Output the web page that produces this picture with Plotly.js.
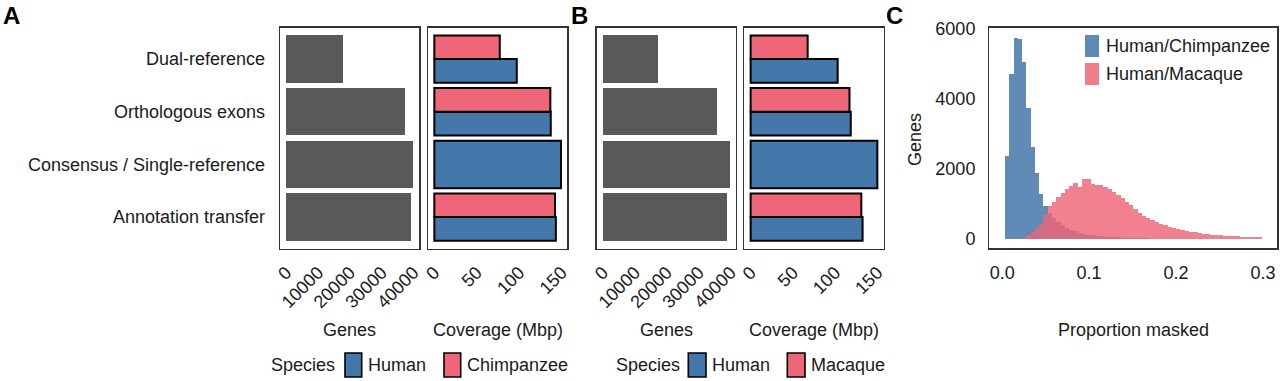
<!DOCTYPE html>
<html><head><meta charset="utf-8">
<script src="https://cdn.plot.ly/plotly-3.0.1.min.js"></script>
<style>html,body{margin:0;padding:0;background:#fff}#chart{width:1280px;height:381px}</style>
</head><body><div id="chart"></div>
<script>
// ---- data ----
const categories = ['Dual-reference', 'Orthologous exons', 'Consensus / Single-reference', 'Annotation transfer'];
const genesA = [17900, 37400, 39800, 39300];
const covHumanA = [97, 137, 149, 143];
const covChimpA = [77, 136.5, null, 142];
const genesB = [17300, 35700, 39700, 39000];
const covHumanB = [103, 118.5, 150, 132.5];
const covMacaqueB = [67.5, 117, null, 131];
const genesTicks = [0, 10000, 20000, 30000, 40000];
const covTicks = [0, 50, 100, 150];
const histTicks = [0, 0.1, 0.2, 0.3];
const histYTicks = [0, 2000, 4000, 6000];
const binStart = 0.00568;   // centre of first bin
const binWidth = 0.004924;
const histChimp = [2370, 4710, 5710, 5700, 5050, 3730, 2630, 1890, 1270, 950,
  750, 600, 480, 390, 310, 260, 215, 180, 150, 125,
  105, 90, 78, 68, 60, 52, 45, 40, 35, 30,
  26, 22, 19, 16, 14, 12, 10, 9, 8, 7,
  6, 5, 5, 4, 4, 3, 3, 3, 2, 2,
  2, 2, 1, 1, 1, 1, 1, 1, 1, 1];
const histMacaque = [0, 0, 3, 8, 25, 100, 190, 295, 435, 670,
  930, 1055, 1195, 1310, 1415, 1510, 1595, 1480, 1700, 1695,
  1575, 1545, 1525, 1490, 1435, 1340, 1260, 1165, 1055, 975,
  865, 750, 665, 595, 530, 485, 435, 390, 350, 320,
  285, 255, 230, 210, 190, 170, 150, 135, 125, 115,
  105, 95, 85, 85, 75, 68, 65, 62, 55, 65];

// ---- helpers ----
const W = 1280, H = 381;
const px = x => x / W, py = y => 1 - y / H;
const FONT = 'Liberation Sans, Arial, Helvetica, sans-serif';
const BLUE = '#4477AA', RED = '#EE6677', GREY = '#595959';
const TXT = '#1a1a1a';
const catOrder = categories.slice().reverse();

function genesTrace(vals, xa, ya) {
  return {type: 'bar', orientation: 'h', y: categories, x: vals, width: 0.9, offset: -0.45,
    marker: {color: GREY, line: {width: 0}}, xaxis: xa, yaxis: ya, hoverinfo: 'skip', showlegend: false};
}
function covTraces(human, other, xa, ya) {
  const hw = other.map(v => v == null ? 0.9 : 0.45);
  return [
    {type: 'bar', orientation: 'h', y: categories, x: human, width: hw, offset: -0.45,
      marker: {color: BLUE, line: {color: '#000', width: 2}}, xaxis: xa, yaxis: ya, hoverinfo: 'skip', showlegend: false},
    {type: 'bar', orientation: 'h', y: categories, x: other, width: 0.45, offset: 0,
      marker: {color: RED, line: {color: '#000', width: 2}}, xaxis: xa, yaxis: ya, hoverinfo: 'skip', showlegend: false}
  ];
}
const rng = vals => { const m = Math.max(...vals.filter(v => v != null)); return [-0.05 * m, 1.05 * m]; };

const traces = [
  genesTrace(genesA, 'x', 'y'),
  ...covTraces(covHumanA, covChimpA, 'x2', 'y2'),
  genesTrace(genesB, 'x3', 'y3'),
  ...covTraces(covHumanB, covMacaqueB, 'x4', 'y4'),
  {type: 'bar', x0: binStart, dx: binWidth, y: histChimp, width: binWidth, marker: {color: BLUE, line: {width: 0}},
    opacity: 0.85, xaxis: 'x5', yaxis: 'y5', hoverinfo: 'skip', showlegend: false},
  {type: 'bar', x0: binStart, dx: binWidth, y: histMacaque, width: binWidth, marker: {color: RED, line: {width: 0}},
    opacity: 0.82, xaxis: 'x5', yaxis: 'y5', hoverinfo: 'skip', showlegend: false}
];

const boxY = [py(248.7), py(27.5)];
const frame = {showline: true, mirror: true, linecolor: '#333', linewidth: 1.3, showgrid: false, zeroline: false, ticks: '', fixedrange: true};
const tickF = {family: FONT, size: 18, color: TXT};
const yCat = Object.assign({}, frame, {type: 'category', categoryorder: 'array', categoryarray: catOrder, range: [-0.6, 3.6], domain: boxY});
const xBar = (dom, anchor, vals, ticks) => Object.assign({}, frame, {domain: dom, anchor: anchor, range: rng(vals),
  tickvals: ticks, ticktext: ticks.map(String), tickangle: -45, tickfont: tickF, ticklabelstandoff: 5});

const layout = {
  width: W, height: H, margin: {l: 0, r: 0, t: 0, b: 0}, paper_bgcolor: '#fff', plot_bgcolor: '#fff',
  barmode: 'overlay', bargap: 0, showlegend: false, font: {family: FONT, color: TXT},
  xaxis: xBar([px(280), px(419.3)], 'y', genesA, genesTicks),
  xaxis2: xBar([px(428), px(567.3)], 'y2', covHumanA.concat(covChimpA), covTicks),
  xaxis3: xBar([px(596.7), px(736)], 'y3', genesB, genesTicks),
  xaxis4: xBar([px(744.3), px(883.7)], 'y4', covHumanB.concat(covMacaqueB), covTicks),
  yaxis: Object.assign({}, yCat, {anchor: 'x', tickfont: tickF, ticklabelstandoff: 10}),
  yaxis2: Object.assign({}, yCat, {anchor: 'x2', showticklabels: false}),
  yaxis3: Object.assign({}, yCat, {anchor: 'x3', showticklabels: false}),
  yaxis4: Object.assign({}, yCat, {anchor: 'x4', showticklabels: false}),
  xaxis5: Object.assign({}, frame, {domain: [px(989.3), px(1277.3)], anchor: 'y5', range: [-0.0148, 0.3165],
    tickvals: histTicks, ticktext: histTicks.map(v => v.toFixed(1)), tickfont: tickF, ticklabelstandoff: 8}),
  yaxis5: Object.assign({}, frame, {domain: [py(248.3), py(27.7)], anchor: 'x5', range: [-265, 6017],
    tickvals: histYTicks, ticktext: histYTicks.map(String), tickfont: tickF, ticklabelstandoff: 9}),
  shapes: [],
  annotations: []
};

const ann = (text, x, y, opt) => layout.annotations.push(Object.assign({text: text, x: px(x), y: py(y), xref: 'paper', yref: 'paper',
  showarrow: false, font: {family: FONT, size: 18, color: TXT}, xanchor: 'center', yanchor: 'middle'}, opt || {}));

// panel letters
const LF = {family: FONT, size: 24, color: '#000'};
ann('<b>A</b>', 1, 15, {xanchor: 'left', font: LF});
ann('<b>B</b>', 569, 15, {xanchor: 'left', font: LF});
ann('<b>C</b>', 884, 15, {xanchor: 'left', font: LF});
// axis titles
ann('Genes', 349.5, 330);
ann('Coverage (Mbp)', 497.6, 330);
ann('Genes', 666.3, 330);
ann('Coverage (Mbp)', 814, 330);
ann('Proportion masked', 1133.3, 330);
ann('Genes', 915, 140, {textangle: -90});

// legends (keys + labels)
const key = (x0, x1, y0, y1, col, outline) => layout.shapes.push({type: 'rect', xref: 'paper', yref: 'paper',
  x0: px(x0), x1: px(x1), y0: py(y1), y1: py(y0), fillcolor: col, layer: 'above',
  line: outline ? {color: '#000', width: 1.6} : {width: 0}});
ann('Species', 337, 365, {xanchor: 'right'});
key(345, 361.7, 353, 377, BLUE, true); ann('Human', 366, 365, {xanchor: 'left'});
key(444, 460.7, 353, 377, RED, true); ann('Chimpanzee', 464.5, 365, {xanchor: 'left'});
ann('Species', 682, 365, {xanchor: 'right'});
key(688.3, 706, 353, 377, BLUE, true); ann('Human', 709.5, 365, {xanchor: 'left'});
key(787.3, 805, 353, 377, RED, true); ann('Macaque', 809, 365, {xanchor: 'left'});
key(1085, 1099, 35, 57, 'rgba(68,119,170,0.85)', false); ann('Human/Chimpanzee', 1103.5, 46, {xanchor: 'left'});
key(1085, 1099, 63, 85, 'rgba(238,102,119,0.85)', false); ann('Human/Macaque', 1103.5, 74, {xanchor: 'left'});

Plotly.newPlot('chart', traces, layout, {staticPlot: true, displayModeBar: false});
</script></body></html>
